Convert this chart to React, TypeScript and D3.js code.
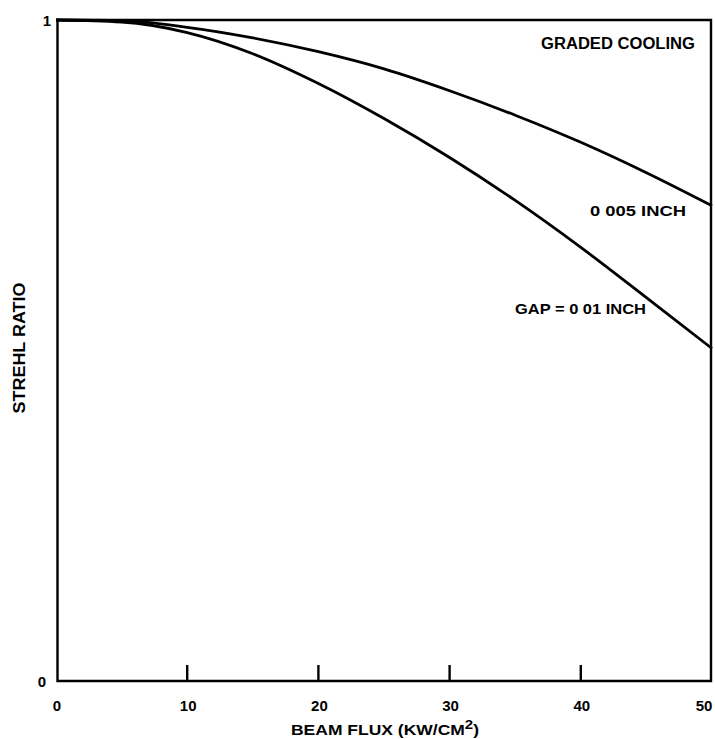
import React from "react";
import * as d3 from "d3";

const flux = [0, 5, 10, 15, 20, 25, 30, 35, 40, 45, 50];
const gradedCooling005 = [1, 0.999, 0.989, 0.973, 0.952, 0.926, 0.893, 0.856, 0.815, 0.769, 0.719];
const gap001 = [1, 0.997, 0.981, 0.949, 0.904, 0.851, 0.792, 0.727, 0.656, 0.58, 0.503];
const xTicks = [0, 10, 20, 30, 40, 50];
const yTicks = [0, 1];

const FONT = "'Liberation Sans', Arial, Helvetica, sans-serif";

export default function App() {
  const W = 715, H = 739;
  const x = d3.scaleLinear().domain([0, 50]).range([56, 712]);
  const y = d3.scaleLinear().domain([0, 1]).range([681, 20]);
  const line = d3
    .line<number>()
    .x((_, i) => x(flux[i]))
    .y((d) => y(d))
    .curve(d3.curveMonotoneX);
  const left = 57.5;
  const right = 711;
  return (
    <svg width={W} height={H} style={{ position: "absolute", left: 0, top: 0, background: "#fff" }}>
      <rect x={0} y={0} width={W} height={H} fill="#fff" />
      <path
        d={`M${left},${y(0)} L${left},${y(1)} L${right},${y(1)} L${right},${y(0)} Z`}
        fill="none"
        stroke="#000"
        strokeWidth={2.4}
      />
      {xTicks.slice(1, -1).map((t) => (
        <line key={t} x1={x(t)} x2={x(t)} y1={y(0)} y2={y(0) - 16} stroke="#000" strokeWidth={2.4} />
      ))}
      {xTicks.map((t) => (
        <text
          key={"xl" + t}
          x={t === 50 ? x(t) - 8 : x(t) + 1}
          y={711}
          textAnchor="middle"
          fontFamily={FONT}
          fontWeight="bold"
          fontSize={15}
          fill="#000"
        >
          {t}
        </text>
      ))}
      {yTicks.map((t) => (
        <text
          key={"yl" + t}
          x={t === 0 ? 42 : 47}
          y={y(t) + 6}
          textAnchor="middle"
          fontFamily={FONT}
          fontWeight="bold"
          fontSize={15}
          fill="#000"
        >
          {t}
        </text>
      ))}
      <path d={line(gradedCooling005) || ""} fill="none" stroke="#000" strokeWidth={2.8} />
      <path d={line(gap001) || ""} fill="none" stroke="#000" strokeWidth={2.8} />
      <text x={541} y={49} fontFamily={FONT} fontWeight="bold" fontSize={16} textLength={154} lengthAdjust="spacingAndGlyphs" fill="#000">
        GRADED COOLING
      </text>
      <text x={590} y={216} fontFamily={FONT} fontWeight="bold" fontSize={14.5} textLength={96} lengthAdjust="spacingAndGlyphs" fill="#000">
        0 005 INCH
      </text>
      <text x={515} y={314} fontFamily={FONT} fontWeight="bold" fontSize={14.5} textLength={131} lengthAdjust="spacingAndGlyphs" fill="#000">
        GAP = 0 01 INCH
      </text>
      <text x={291} y={735} fontFamily={FONT} fontWeight="bold" fontSize={14} textLength={188} lengthAdjust="spacingAndGlyphs" fill="#000">
        BEAM FLUX (KW/CM<tspan dy={-6} fontSize={12}>2</tspan>
        <tspan dy={6}>)</tspan>
      </text>
      <text
        transform={`translate(25,348) rotate(-90)`}
        textAnchor="middle"
        fontFamily={FONT}
        fontWeight="bold"
        fontSize={16}
        textLength={131}
        lengthAdjust="spacingAndGlyphs"
        fill="#000"
      >
        STREHL RATIO
      </text>
    </svg>
  );
}
